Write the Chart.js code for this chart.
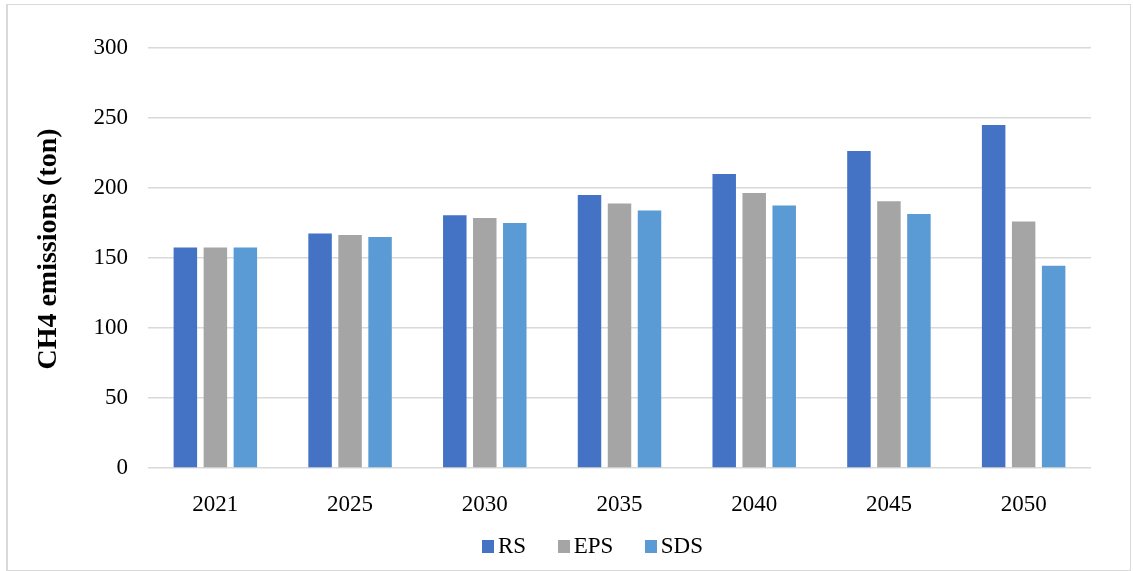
<!DOCTYPE html>
<html>
<head>
<meta charset="utf-8">
<script src="https://cdn.jsdelivr.net/npm/chart.js@4/dist/chart.umd.min.js"></script>
<style>
  html, body { margin: 0; padding: 0; background: #fff; }
  #wrap { position: relative; width: 1133px; height: 571px; overflow: hidden; }
  #frame { position: absolute; left: 6px; top: 4px; width: 1125px; height: 567px;
           border: 1px solid #d9d9d9; border-left-width: 2px; box-sizing: border-box; }
  canvas { position: absolute; left: 0; top: 0; }
  #legend { position: absolute; left: 482px; top: 534px; display: flex; align-items: center;
            font-family: "Liberation Serif", "Times New Roman", serif; font-size: 23px;
            color: #000; line-height: 1; }
  .item { display: flex; align-items: center; margin-right: 31.5px; }
  .sw { width: 12px; height: 12.5px; margin-right: 4px; position: relative; top: 1px; }
</style>
</head>
<body>
<div id="wrap">
  <div id="frame"></div>
  <canvas id="chart" width="1133" height="571"></canvas>
  <div id="legend"></div>
</div>
<script>
// Scenario years and CH4 emissions per scenario (ton)
const years = ['2021', '2025', '2030', '2035', '2040', '2045', '2050'];
const rsValues  = [157.5, 167.5, 180.5, 195, 210, 226.5, 245];
const epsValues = [157.5, 166.5, 178.5, 189, 196.5, 190.5, 176];
const sdsValues = [157.5, 165, 175, 184, 187.5, 181.5, 144.5];

const seriesNames  = ['RS', 'EPS', 'SDS'];
const seriesColors = ['#4472C4', '#A5A5A5', '#5B9BD5'];
const yTitle = 'CH4 emissions (ton)';

Chart.defaults.font.family = '"Liberation Serif", "Times New Roman", serif';
Chart.defaults.color = '#000';

// Rotated y-axis title, drawn a little above the plot's vertical centre
const yTitlePlugin = {
  id: 'yTitle',
  afterDraw(chart) {
    const ctx = chart.ctx;
    ctx.save();
    ctx.translate(49, 249);
    ctx.rotate(-Math.PI / 2);
    ctx.font = 'bold 28px "Liberation Serif", "Times New Roman", serif';
    ctx.textAlign = 'center';
    ctx.textBaseline = 'middle';
    ctx.fillStyle = '#000';
    ctx.fillText(yTitle, 0, 0);
    ctx.restore();
  }
};

const allValues = [rsValues, epsValues, sdsValues];
const datasets = seriesNames.map((name, i) => ({
  label: name,
  data: allValues[i],
  backgroundColor: seriesColors[i],
  borderWidth: 0,
  categoryPercentage: 0.668,
  barPercentage: 0.783
}));

new Chart(document.getElementById('chart'), {
  type: 'bar',
  data: { labels: years, datasets },
  options: {
    responsive: false,
    animation: false,
    layout: { padding: { left: 0, right: 42, top: 48, bottom: 0 } },
    plugins: { legend: { display: false }, tooltip: { enabled: false } },
    scales: {
      x: {
        grid: { display: false },
        border: { display: false },
        ticks: { padding: 15, font: { size: 23 }, color: '#000' },
        afterFit(s) { s.height = 103; }
      },
      y: {
        min: 0, max: 300,
        ticks: { stepSize: 50, padding: 20, font: { size: 23 }, color: '#000' },
        grid: { color: '#d9d9d9', lineWidth: 1.5, drawTicks: false },
        border: { display: false },
        afterFit(s) { s.width = 148; }
      }
    }
  },
  plugins: [yTitlePlugin]
});

// Legend row
const legend = document.getElementById('legend');
seriesNames.forEach((name, i) => {
  const item = document.createElement('div');
  item.className = 'item';
  const sw = document.createElement('span');
  sw.className = 'sw';
  sw.style.background = seriesColors[i];
  const txt = document.createElement('span');
  txt.textContent = name;
  item.appendChild(sw);
  item.appendChild(txt);
  legend.appendChild(item);
});
</script>
</body>
</html>
